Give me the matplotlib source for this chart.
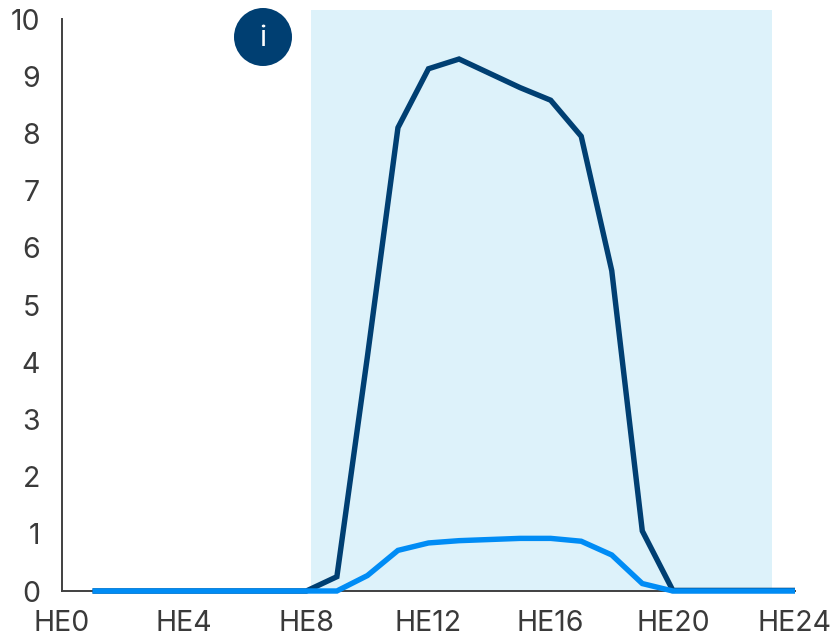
import matplotlib
matplotlib.use("Agg")
import matplotlib.pyplot as plt
from matplotlib.patches import Ellipse

plt.rcParams['font.family'] = ['Inter', 'DejaVu Sans']

hours = list(range(1, 25))
dark_values = [0, 0, 0, 0, 0, 0, 0, 0, 0.25, 4.1, 8.1, 9.13, 9.3, 9.05, 8.8, 8.58,
               7.95, 5.6, 1.05, 0.01, 0.01, 0.01, 0.01, 0.01]
light_values = [0, 0, 0, 0, 0, 0, 0, 0, 0, 0.27, 0.71, 0.84, 0.88, 0.9, 0.92, 0.92,
                0.87, 0.63, 0.13, 0, 0, 0, 0, 0]
x_ticks = [0, 4, 8, 12, 16, 20, 24]
x_labels = ['HE0', 'HE4', 'HE8', 'HE12', 'HE16', 'HE20', 'HE24']
y_ticks = list(range(0, 11))
band = (8.15, 23.26)

W, H = 833, 636
fig = plt.figure(figsize=(W / 100, H / 100), dpi=100)
# axes box in pixels: left 62, right 795, top 19, bottom 591
ax = fig.add_axes([62 / W, (H - 591) / H, (795 - 62) / W, (591 - 19) / H])

ax.axvspan(band[0], band[1], ymin=0, ymax=1.016, color='#DDF2FA', lw=0, clip_on=False, zorder=0)
ax.plot(hours, dark_values, color='#003F72', lw=3.9, solid_joinstyle='miter',
        solid_capstyle='butt', clip_on=False, zorder=3)
ax.plot(hours, light_values, color='#008CF5', lw=3.9, solid_joinstyle='miter',
        solid_capstyle='butt', clip_on=False, zorder=4)

ax.set_xlim(0, 24)
ax.set_ylim(0, 10)
ax.set_xticks(x_ticks, x_labels)
ax.set_yticks(y_ticks)
ax.tick_params(axis='both', length=0, labelsize=20.5, labelcolor='#3A3A3A')
ax.tick_params(axis='x', pad=13.5)
ax.tick_params(axis='y', pad=16)

for side in ['top', 'right']:
    ax.spines[side].set_visible(False)
for side in ['left', 'bottom']:
    ax.spines[side].set_color('#404040')
    ax.spines[side].set_linewidth(1.4)

# info badge
fig.add_artist(Ellipse((263 / W, 1 - 37 / H), 58 / W, 58 / H, transform=fig.transFigure,
                       facecolor='#003F72', edgecolor='none', zorder=5))
fig.text(263 / W, 1 - 38 / H, 'i', color='white', fontsize=21, ha='center', va='center', zorder=6)

fig.savefig('out.png', dpi=100)
